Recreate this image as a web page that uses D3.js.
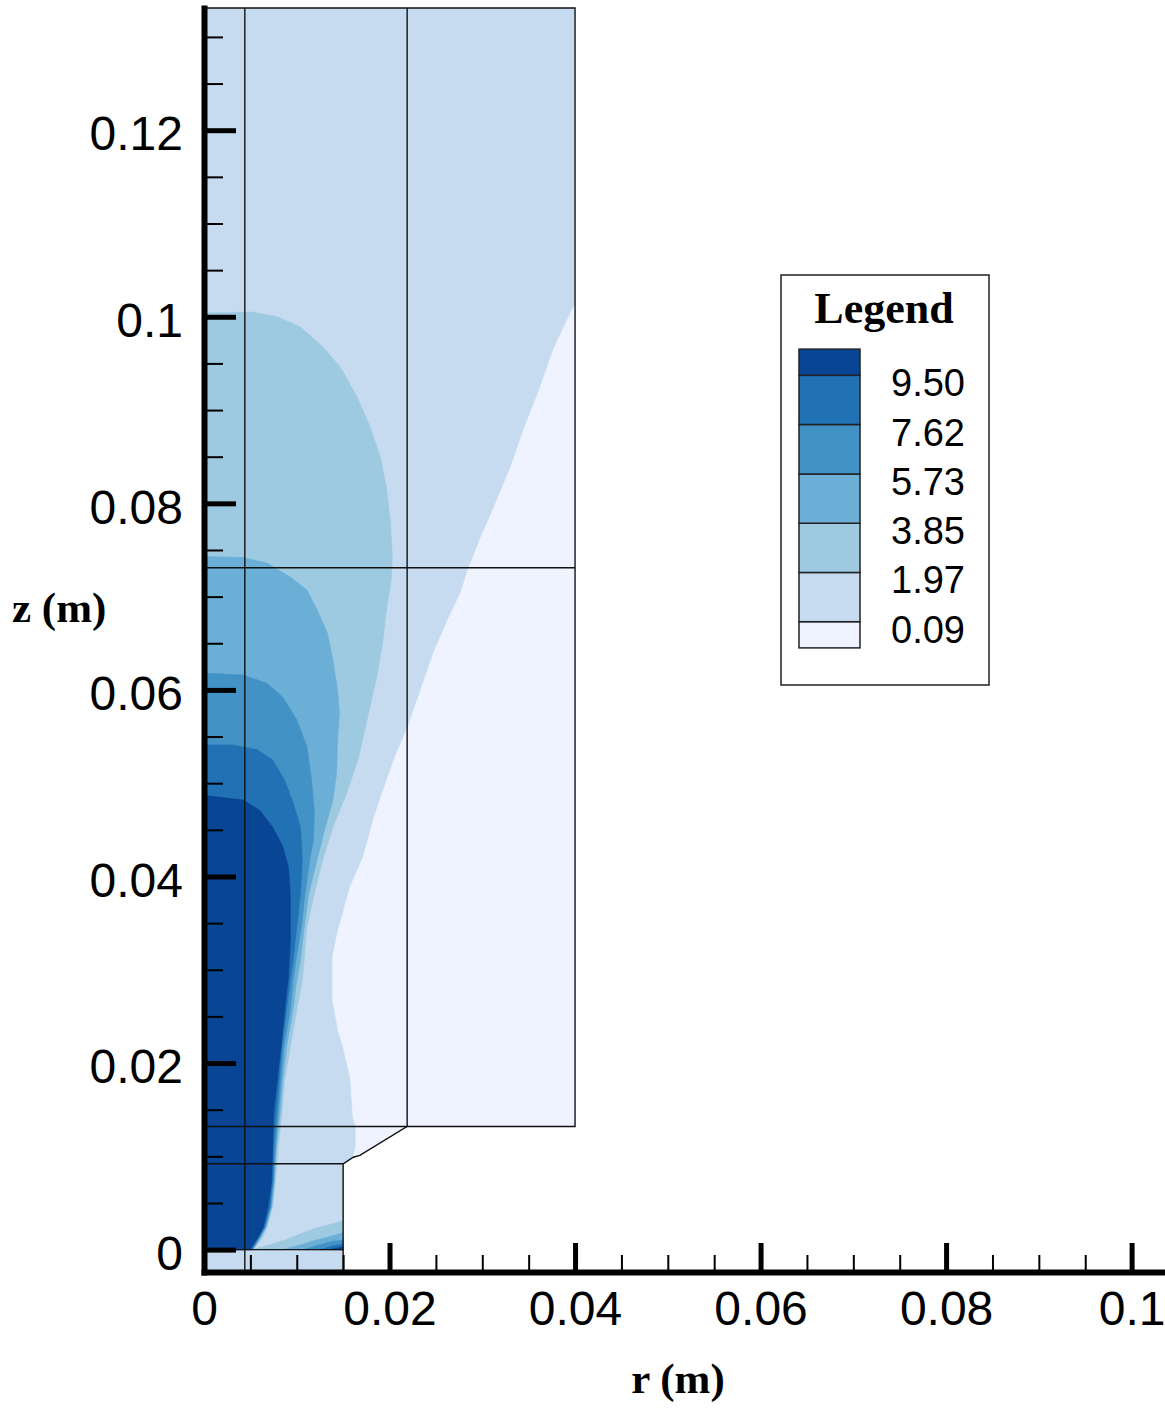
<!DOCTYPE html>
<html>
<head>
<meta charset="utf-8">
<script src="https://cdn.jsdelivr.net/npm/d3@7"></script>
<style>
  body { margin: 0; background: #fff; }
  svg { display: block; }
  .title { font-family: "Liberation Serif", "Times New Roman", serif; font-weight: bold; fill: #000; }
  .num { font-family: "Liberation Sans", Arial, Helvetica, sans-serif; fill: #000; }
</style>
</head>
<body>
<svg width="1165" height="1408"></svg>
<script>
/* global d3 */

// contour levels and fill colours (lowest band first)
const levels = [0.09, 1.97, 3.85, 5.73, 7.62, 9.50];
const levelColors = ["#eff3ff", "#c6dbef", "#9ecae1", "#6baed6", "#4292c6", "#2171b5", "#084594"];

const xTicks = [0, 0.02, 0.04, 0.06, 0.08, 0.1];
const xTickLabels = ["0", "0.02", "0.04", "0.06", "0.08", "0.1"];
const yTicks = [0, 0.02, 0.04, 0.06, 0.08, 0.1, 0.12];
const yTickLabels = ["0", "0.02", "0.04", "0.06", "0.08", "0.1", "0.12"];

// computational domain, [r, z] in metres
const domainOutline = [[0, -0.0024], [0.015, -0.0024], [0.015, 0.0092], [0.0161, 0.0099], [0.0168, 0.0101],
  [0.0219, 0.0132], [0.04, 0.0132], [0.04, 0.1331], [0, 0.1331]];

// mesh block edges
const blockEdges = [
  [[0.0044, -0.0024], [0.0044, 0.1331]],
  [[0.0219, 0.0132], [0.0219, 0.1331]],
  [[0, 0.0731], [0.04, 0.0731]],
  [[0, 0.0132], [0.0219, 0.0132]],
  [[0, 0.0092], [0.015, 0.0092]],
  [[0, 0], [0.015, 0]]
];

// regions where value > level
const region009 = [[0, 0.1331], [0.0401, 0.1331], [0.0401, 0.1017], [0.0391, 0.0997], [0.0376, 0.0965],
  [0.0362, 0.0925], [0.0344, 0.0879], [0.0330, 0.0839], [0.0312, 0.0796], [0.0298, 0.0764], [0.0284, 0.0729],
  [0.0276, 0.0704], [0.0262, 0.0675], [0.0247, 0.0640], [0.0233, 0.0600], [0.0219, 0.0560], [0.0204, 0.0525],
  [0.0190, 0.0485], [0.0182, 0.0461], [0.0171, 0.0421], [0.0157, 0.0389], [0.0150, 0.0364], [0.0144, 0.0343],
  [0.0138, 0.0314], [0.0138, 0.0268], [0.0144, 0.0235], [0.0150, 0.0214], [0.0157, 0.0185], [0.0160, 0.0142],
  [0.0163, 0.0131], [0.0163, 0.0110], [0.0160, 0.0098], [0.0168, -0.0024], [0, -0.0024]];

const region197 = [[0, 0.1004], [0.0053, 0.1005], [0.0079, 0.1000], [0.0104, 0.0989], [0.0128, 0.0968],
  [0.0147, 0.0946], [0.0165, 0.0914], [0.0179, 0.0882], [0.0190, 0.0850], [0.0197, 0.0815], [0.0201, 0.0779],
  [0.0203, 0.0743], [0.0202, 0.0718], [0.0197, 0.0689], [0.0193, 0.0654], [0.0187, 0.0618], [0.0179, 0.0582],
  [0.0166, 0.0525], [0.0154, 0.0490], [0.0139, 0.0453], [0.0128, 0.0418], [0.0119, 0.0382], [0.0111, 0.0346],
  [0.0108, 0.0310], [0.0106, 0.0289], [0.0100, 0.0257], [0.0093, 0.0217], [0.0087, 0.0182], [0.0084, 0.0146],
  [0.0080, 0.0110], [0.0077, 0.0074], [0.0074, 0.0046], [0.0068, 0.0024], [0.0063, 0.0013], [0.0057, 0.0005],
  [0.0054, 0], [0, 0]];
const wall197 = [[0.0053, 0], [0.0066, 0.0004], [0.0087, 0.0010], [0.0104, 0.0017], [0.0120, 0.0023],
  [0.0136, 0.0027], [0.0150, 0.0031], [0.0160, 0.0031], [0.0160, 0]];

const region385 = [[0, 0.0743], [0.0042, 0.0742], [0.0068, 0.0736], [0.0093, 0.0721], [0.0111, 0.0707],
  [0.0122, 0.0686], [0.0133, 0.0661], [0.0139, 0.0632], [0.0144, 0.0600], [0.0146, 0.0575], [0.0144, 0.0546],
  [0.0143, 0.0511], [0.0139, 0.0482], [0.0130, 0.0450], [0.0122, 0.0418], [0.0113, 0.0382], [0.0108, 0.0346],
  [0.0104, 0.0310], [0.0100, 0.0289], [0.0096, 0.0257], [0.0089, 0.0217], [0.0085, 0.0182], [0.0082, 0.0146],
  [0.0078, 0.0110], [0.0076, 0.0074], [0.0073, 0.0046], [0.0067, 0.0024], [0.0061, 0.0013], [0.0056, 0.0005],
  [0.0053, 0], [0, 0]];
const wall385 = [[0.0085, 0], [0.0104, 0.0005], [0.0120, 0.0010], [0.0136, 0.0014], [0.0150, 0.0018],
  [0.0160, 0.0018], [0.0160, 0]];

const region573 = [[0, 0.0618], [0.0042, 0.0616], [0.0068, 0.0607], [0.0085, 0.0592], [0.0100, 0.0568],
  [0.0111, 0.0539], [0.0116, 0.0503], [0.0119, 0.0468], [0.0118, 0.0439], [0.0114, 0.0418], [0.0109, 0.0382],
  [0.0105, 0.0346], [0.0099, 0.0310], [0.0096, 0.0289], [0.0093, 0.0257], [0.0086, 0.0217], [0.0083, 0.0182],
  [0.0080, 0.0146], [0.0077, 0.0110], [0.0075, 0.0074], [0.0072, 0.0046], [0.0066, 0.0024], [0.0060, 0.0013],
  [0.0055, 0.0005], [0.0052, 0], [0, 0]];
const wall573 = [[0.0108, 0], [0.0124, 0.0005], [0.0139, 0.0009], [0.0150, 0.0010], [0.0160, 0.0010], [0.0160, 0]];

const region762 = [[0, 0.0541], [0.0031, 0.0541], [0.0057, 0.0536], [0.0074, 0.0525], [0.0087, 0.0503],
  [0.0096, 0.0479], [0.0104, 0.0453], [0.0106, 0.0418], [0.0104, 0.0382], [0.0100, 0.0346], [0.0096, 0.0310],
  [0.0093, 0.0289], [0.0089, 0.0257], [0.0084, 0.0217], [0.0081, 0.0182], [0.0078, 0.0146], [0.0075, 0.0110],
  [0.0074, 0.0074], [0.0071, 0.0046], [0.0065, 0.0024], [0.0059, 0.0013], [0.0054, 0.0005], [0.0051, 0], [0, 0]];
const wall762 = [[0.0125, 0], [0.0139, 0.0004], [0.0150, 0.0006], [0.0160, 0.0006], [0.0160, 0]];

const region950 = [[0, 0.0487], [0.0042, 0.0482], [0.0060, 0.0471], [0.0074, 0.0453], [0.0085, 0.0432],
  [0.0091, 0.0410], [0.0093, 0.0382], [0.0093, 0.0329], [0.0091, 0.0292], [0.0087, 0.0257], [0.0083, 0.0217],
  [0.0079, 0.0182], [0.0075, 0.0146], [0.0074, 0.0110], [0.0073, 0.0074], [0.0069, 0.0046], [0.0064, 0.0024],
  [0.0058, 0.0013], [0.0053, 0.0005], [0.0050, 0], [0, 0]];
const wall950 = [[0.0136, 0], [0.0150, 0.0003], [0.0160, 0.0003], [0.0160, 0]];

const regions = [[region009], [region197, wall197], [region385, wall385], [region573, wall573],
  [region762, wall762], [region950, wall950]];

const svg = d3.select("svg");

const x = d3.scaleLinear().domain([0, 0.1036]).range([204, 1165]);
const y = d3.scaleLinear().domain([-0.0024, 0.1331]).range([1272, 8]);
const line = d3.line().x(d => x(d[0])).y(d => y(d[1]));

svg.append("clipPath").attr("id", "dom")
  .append("path").attr("d", line(domainOutline) + "Z");

const field = svg.append("g").attr("clip-path", "url(#dom)");

field.append("path")
  .attr("d", line(domainOutline) + "Z")
  .attr("fill", levelColors[0]);

regions.forEach(function(rings, i) {
  field.selectAll(null)
    .data(rings)
    .enter()
    .append("path")
    .attr("d", d => line(d) + "Z")
    .attr("fill", levelColors[i + 1])
    .attr("stroke", levelColors[i + 1])
    .attr("stroke-width", 0.6);
});

// mesh lines
svg.append("g")
  .selectAll("path")
  .data(blockEdges)
  .enter()
  .append("path")
  .attr("d", line)
  .attr("fill", "none")
  .attr("stroke", "#111")
  .attr("stroke-width", 1.4);

svg.append("path")
  .attr("d", line(domainOutline) + "Z")
  .attr("fill", "none")
  .attr("stroke", "#111")
  .attr("stroke-width", 1.4);

// axes, ticks point into the plot
const xMinor = d3.range(0.005, 0.1036, 0.005).filter(v => Math.abs(v / 0.02 - Math.round(v / 0.02)) > 1e-6);
const yMinor = d3.range(0.005, 0.1331, 0.005).filter(v => Math.abs(v / 0.02 - Math.round(v / 0.02)) > 1e-6);

const gxMinor = svg.append("g").attr("transform", "translate(0,1272)")
  .call(d3.axisBottom(x).tickValues(xMinor).tickSize(-17).tickFormat(""));
gxMinor.select(".domain").remove();
gxMinor.selectAll(".tick line").attr("stroke-width", 2);

const gyMinor = svg.append("g").attr("transform", "translate(204,0)")
  .call(d3.axisLeft(y).tickValues(yMinor).tickSize(-19).tickFormat(""));
gyMinor.select(".domain").remove();
gyMinor.selectAll(".tick line").attr("stroke-width", 2);

const gx = svg.append("g")
  .attr("transform", "translate(0,1272)")
  .call(d3.axisBottom(x)
    .tickValues(xTicks)
    .tickFormat((d, i) => xTickLabels[i])
    .tickSize(-29)
    .tickSizeOuter(0)
    .tickPadding(19));
gx.attr("font-family", null).attr("font-size", null);
gx.select(".domain").attr("stroke-width", 6).attr("stroke-linecap", "square");
gx.selectAll(".tick line").attr("stroke-width", 5);
gx.selectAll(".tick text").attr("class", "num").attr("font-size", 48);

const gy = svg.append("g")
  .attr("transform", "translate(204,0)")
  .call(d3.axisLeft(y)
    .tickValues(yTicks)
    .tickFormat((d, i) => yTickLabels[i])
    .tickSize(-32)
    .tickSizeOuter(0)
    .tickPadding(21));
gy.attr("font-family", null).attr("font-size", null);
gy.select(".domain").attr("stroke-width", 6).attr("stroke-linecap", "square");
gy.selectAll(".tick line").attr("stroke-width", 5);
gy.selectAll(".tick text").attr("class", "num").attr("font-size", 48).attr("dy", "0.41em");

// axis titles
svg.append("text").attr("class", "title").attr("font-size", 43)
  .attr("x", 12).attr("y", 622).text("z (m)");
svg.append("text").attr("class", "title").attr("font-size", 43)
  .attr("x", 678).attr("y", 1393).attr("text-anchor", "middle").text("r (m)");

// legend
const legend = svg.append("g");
legend.append("rect")
  .attr("x", 781).attr("y", 275).attr("width", 208).attr("height", 410)
  .attr("fill", "#fff").attr("stroke", "#222").attr("stroke-width", 1.5);
legend.append("text").attr("class", "title").attr("font-size", 44)
  .attr("x", 884).attr("y", 323).attr("text-anchor", "middle").text("Legend");

const ly = d3.scaleLinear().domain([9.50, 0.09]).range([375.3, 621.7]);
const bandEdges = [levels[0] - 1.0].concat(levels, [levels[levels.length - 1] + 1.0]);

legend.selectAll(".swatch")
  .data(levelColors)
  .enter()
  .append("rect")
  .attr("class", "swatch")
  .attr("x", 799)
  .attr("width", 61)
  .attr("y", (d, i) => ly(bandEdges[i + 1]))
  .attr("height", (d, i) => ly(bandEdges[i]) - ly(bandEdges[i + 1]))
  .attr("fill", d => d)
  .attr("stroke", "#222")
  .attr("stroke-width", 1.5);

legend.selectAll(".lvl")
  .data(levels)
  .enter()
  .append("text")
  .attr("class", "num lvl")
  .attr("font-size", 38)
  .attr("x", 891)
  .attr("y", d => ly(d) + 21)
  .text(d => d.toFixed(2));
</script>
</body>
</html>
